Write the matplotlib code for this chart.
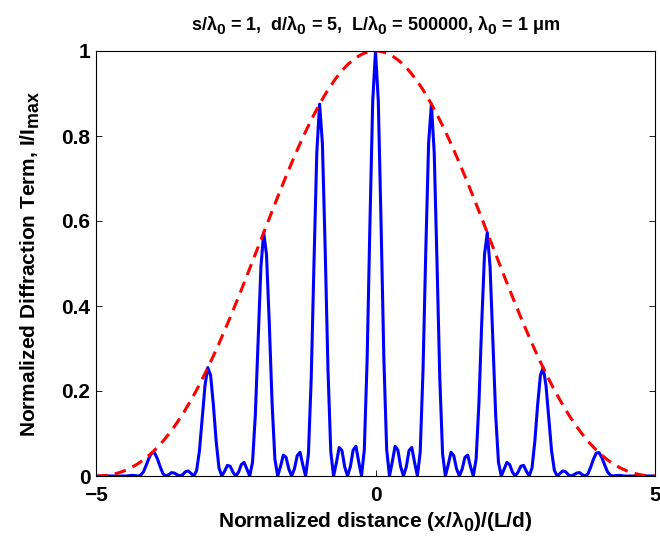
import matplotlib
matplotlib.use('Agg')
import matplotlib.pyplot as plt
import numpy as np

# bigger, lower subscripts like the reference rendering
try:
    import matplotlib._mathtext as _mt
    _mt.SHRINK_FACTOR = 0.85
    _mt.FontConstantsBase.sub1 = 0.45
except Exception:
    pass

# positions sampled along the normalized distance axis, step 0.05 from -5 to 5
x = np.linspace(-5, 5, 201)

# intensity for x = 0, 0.05, ..., 5 (curve is mirror symmetric)
blue_half = [1.000, 0.882, 0.591, 0.273, 0.062, 0.000, 0.033, 0.070, 0.061, 0.022,
             0.000, 0.021, 0.060, 0.067, 0.031, 0.000, 0.057, 0.249, 0.532, 0.783,
             0.875, 0.762, 0.504, 0.230, 0.052, 0.000, 0.026, 0.056, 0.048, 0.017,
             0.000, 0.016, 0.044, 0.049, 0.022, 0.000, 0.040, 0.171, 0.359, 0.521,
             0.573, 0.491, 0.319, 0.143, 0.032, 0.000, 0.016, 0.032, 0.027, 0.009,
             0.000, 0.009, 0.023, 0.025, 0.011, 0.000, 0.019, 0.081, 0.167, 0.237,
             0.255, 0.213, 0.135, 0.059, 0.013, 0.000, 0.006, 0.012, 0.010, 0.003,
             0.000, 0.003, 0.007, 0.008, 0.003, 0.000, 0.005, 0.021, 0.040, 0.054,
             0.055, 0.043, 0.026, 0.010, 0.002, 0.000, 0.001, 0.0015, 0.001, 0.000,
             0.000, 0.000, 0.000, 0.000, 0.000, 0.000, 0.000, 0.000, 0.000, 0.000,
             0.000]

# single-slit envelope read at the same positions
env_half = [1.0000, 0.9997, 0.9987, 0.9970, 0.9948, 0.9918, 0.9882, 0.9840, 0.9791, 0.9736,
            0.9676, 0.9608, 0.9535, 0.9456, 0.9372, 0.9281, 0.9186, 0.9085, 0.8979, 0.8867,
            0.8752, 0.8631, 0.8506, 0.8376, 0.8243, 0.8106, 0.7965, 0.7820, 0.7673, 0.7522,
            0.7369, 0.7212, 0.7054, 0.6893, 0.6731, 0.6567, 0.6401, 0.6234, 0.6066, 0.5897,
            0.5728, 0.5558, 0.5389, 0.5219, 0.5050, 0.4881, 0.4713, 0.4546, 0.4380, 0.4216,
            0.4053, 0.3892, 0.3732, 0.3575, 0.3420, 0.3268, 0.3117, 0.2970, 0.2826, 0.2684,
            0.2546, 0.2411, 0.2279, 0.2150, 0.2025, 0.1904, 0.1786, 0.1672, 0.1562, 0.1456,
            0.1353, 0.1255, 0.1160, 0.1070, 0.0983, 0.0901, 0.0822, 0.0747, 0.0677, 0.0610,
            0.0547, 0.0488, 0.0433, 0.0381, 0.0333, 0.0289, 0.0248, 0.0211, 0.0177, 0.0147,
            0.0119, 0.0095, 0.0074, 0.0056, 0.0040, 0.0028, 0.0017, 0.0010, 0.0004, 0.0001,
            0.0000]

intensity = blue_half[:0:-1] + blue_half
envelope = env_half[:0:-1] + env_half

plt.rcParams['font.family'] = ['Liberation Sans', 'DejaVu Sans']
plt.rcParams['font.weight'] = 'bold'
plt.rcParams['mathtext.fontset'] = 'custom'
plt.rcParams['mathtext.rm'] = 'Liberation Sans:bold'
plt.rcParams['mathtext.it'] = 'Liberation Sans:bold'
plt.rcParams['mathtext.bf'] = 'Liberation Sans:bold'
plt.rcParams['mathtext.default'] = 'rm'

fig = plt.figure(figsize=(6.6, 5.44), dpi=100)
ax = fig.add_axes([96/660, 68/544, 559/660, 425/544])

ax.plot(x, intensity, color='#0000ff', lw=2.2)
ax.plot(x, envelope, color='#ff0000', lw=2.2, linestyle=(0, (3.8, 2.4)))

ax.set_xlim(-5, 5)
ax.set_ylim(0, 1)
ax.set_xticks([-5, 0, 5])
ax.set_xticklabels(['\u22125', '0', '5'])
ax.set_yticks([0, 0.2, 0.4, 0.6, 0.8, 1])
ax.set_yticklabels(['0', '0.2', '0.4', '0.6', '0.8', '1'])
ax.tick_params(direction='in', length=4, width=0.6, labelsize=15,
               top=True, right=True)
ax.tick_params(axis='x', pad=7.5)
ax.tick_params(axis='y', pad=4)
for lab in ax.get_xticklabels() + ax.get_yticklabels():
    lab.set_fontweight('bold')
for sp in ax.spines.values():
    sp.set_linewidth(0.8)

ax.set_xlabel(r'Normalized distance (x/$\lambda_0$)/(L/d)', fontsize=15,
              fontweight='bold', labelpad=3)
ax.set_ylabel(r'Normalized Diffraction Term, I/I$_{max}$', fontsize=15,
              fontweight='bold', labelpad=14)
ax.set_title(r's/$\lambda_0$ = 1,  d/$\lambda_0$ = 5,  L/$\lambda_0$ = 500000, $\lambda_0$ = 1 $\mu$m',
             fontsize=13, fontweight='bold', pad=15)

fig.savefig('out.png', dpi=100)
